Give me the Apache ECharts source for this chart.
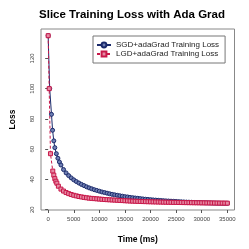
<!DOCTYPE html>
<html>
<head>
<meta charset="utf-8">
<script src="https://cdn.jsdelivr.net/npm/echarts@6/dist/echarts.min.js"></script>
<style>html,body{margin:0;padding:0;background:#fff}#c{width:249px;height:249px}</style>
</head>
<body>
<div id="c"></div>
<script>
const titleText = 'Slice Training Loss with Ada Grad';
const xName = 'Time (ms)';
const yName = 'Loss';
const seriesNames = ['SGD+adaGrad Training Loss', 'LGD+adaGrad Training Loss'];
const xTicks = [0, 5000, 10000, 15000, 20000, 25000, 30000, 35000];
const yTicks = [20, 40, 60, 80, 100, 120];

const sgdTime = [0,300,650,860,1100,1300,1600,1900,2200,2500,3000,3500,4000,4500,5000,5500,6000,6500,7000,7500,8000,8500,9000,9500,10000,10500,11000,11500,12000,12500,13000,13500,14000,14500,15000,15500,16000,16500,17000,17500,18000,18500,19000,19500,20000,20500,21000,21500,22000,22500,23000,23500,24000,24500,25000,25500,26000,26500,27000,27500,28000,28500,29000,29500,30000,30500,31000,31500,32000,32500,33000,33500,34000,34500,35000];
const sgdLoss = [135,100,83,72.5,65.5,61,57,54,51.5,49.5,46.5,44.3,42.5,41.0,39.7,38.6,37.6,36.7,35.9,35.1,34.4,33.8,33.2,32.7,32.2,31.7,31.3,30.9,30.5,30.1,29.8,29.5,29.2,28.9,28.6,28.4,28.1,27.9,27.7,27.5,27.3,27.1,26.9,26.75,26.6,26.45,26.3,26.2,26.05,25.95,25.8,25.7,25.6,25.5,25.4,25.3,25.2,25.1,25.0,24.95,24.85,24.8,24.7,24.65,24.6,24.55,24.5,24.45,24.4,24.35,24.3,24.28,24.25,24.22,24.2];

const lgdTime = [0,200,450,900,1100,1300,1500,1700,2000,2500,3000,3500,4000,4500,5000,5500,6000,6500,7000,7500,8000,8500,9000,9500,10000,10500,11000,11500,12000,12500,13000,13500,14000,14500,15000,15500,16000,16500,17000,17500,18000,18500,19000,19500,20000,20500,21000,21500,22000,22500,23000,23500,24000,24500,25000,25500,26000,26500,27000,27500,28000,28500,29000,29500,30000,30500,31000,31500,32000,32500,33000,33500,34000,34500,35000];
const lgdLoss = [135,100,57,45.5,42.8,40.5,38.8,37.5,35.5,33.6,32.3,31.3,30.6,30.0,29.5,29.1,28.7,28.4,28.1,27.85,27.6,27.45,27.3,27.15,27.0,26.85,26.7,26.6,26.5,26.4,26.3,26.2,26.1,26.0,25.9,25.8,25.7,25.62,25.55,25.48,25.4,25.35,25.3,25.25,25.2,25.15,25.1,25.05,25.0,24.96,24.92,24.88,24.85,24.81,24.78,24.74,24.7,24.68,24.65,24.63,24.6,24.58,24.55,24.53,24.5,24.48,24.45,24.43,24.4,24.38,24.36,24.34,24.32,24.31,24.3];

const sgdData = sgdTime.map((t, i) => [t, sgdLoss[i]]);
const lgdData = lgdTime.map((t, i) => [t, lgdLoss[i]]);

const navy = '#1b2a6b';
const crimson = '#c8184a';
const font = 'Liberation Sans, Arial, sans-serif';
const plain = v => String(v);

const chart = echarts.init(document.getElementById('c'), null, {renderer: 'canvas'});
chart.setOption({
  animation: false,
  backgroundColor: '#fff',
  title: {
    text: titleText,
    left: 132, top: 8.5, padding: 0,
    textAlign: 'center', textVerticalAlign: 'top',
    textStyle: {fontFamily: font, fontSize: 11.5, fontWeight: 'bold', color: '#000'}
  },
  legend: {
    orient: 'vertical', left: 93, top: 36,
    padding: [5, 6, 5, 3],
    borderColor: '#777', borderWidth: 1, borderRadius: 0,
    itemWidth: 14, itemHeight: 6, itemGap: 1,
    textStyle: {fontFamily: font, fontSize: 8, color: '#222', lineHeight: 8},
    data: seriesNames
  },
  grid: {left: 29, right: 14.5, top: 29, bottom: 37, show: true, borderColor: '#888', borderWidth: 1, containLabel: false},
  xAxis: {
    type: 'value', min: -1400, max: 36400,
    name: xName, nameLocation: 'middle', nameGap: 25,
    nameTextStyle: {fontFamily: font, fontSize: 8.5, fontWeight: 'bold', color: '#000'},
    axisLine: {show: false},
    axisTick: {show: true, length: 3, lineStyle: {color: '#555'}, customValues: xTicks},
    axisLabel: {fontFamily: font, fontSize: 6, color: '#444', margin: 6, customValues: xTicks, formatter: plain},
    splitLine: {show: false}
  },
  yAxis: {
    type: 'value', min: 19.77, max: 139.43,
    name: yName, nameLocation: 'middle', nameGap: 24,
    nameTextStyle: {fontFamily: font, fontSize: 8.5, fontWeight: 'bold', color: '#000'},
    axisLine: {show: false},
    axisTick: {show: true, length: 3, lineStyle: {color: '#555'}, customValues: yTicks},
    axisLabel: {fontFamily: font, fontSize: 6, color: '#444', margin: 6, rotate: 90, customValues: yTicks, formatter: plain},
    splitLine: {show: false}
  },
  series: [
    {
      name: seriesNames[0], type: 'line', data: sgdData,
      symbol: 'circle', symbolSize: 4, showAllSymbol: true,
      lineStyle: {color: navy, width: 1},
      itemStyle: {color: '#6f7fb3', borderColor: navy, borderWidth: 1}
    },
    {
      name: seriesNames[1], type: 'line', data: lgdData,
      symbol: 'rect', symbolSize: 4, showAllSymbol: true,
      lineStyle: {color: crimson, width: 1, type: [3, 2]},
      itemStyle: {color: '#e58aa3', borderColor: crimson, borderWidth: 1}
    }
  ]
});
</script>
</body>
</html>
